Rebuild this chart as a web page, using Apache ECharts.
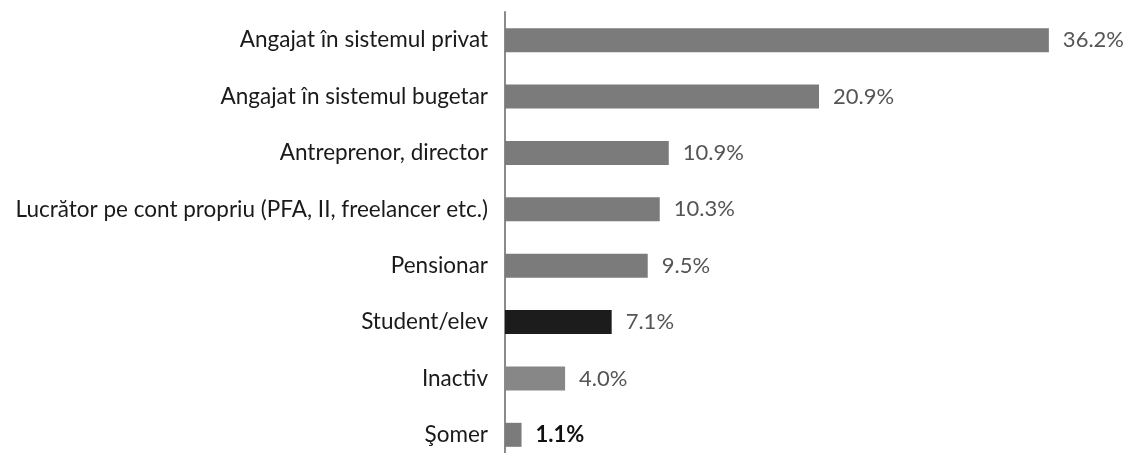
<!DOCTYPE html>
<html>
<head>
<meta charset="utf-8">
<script src="https://cdn.jsdelivr.net/npm/echarts@6/dist/echarts.min.js"></script>
<style>
  html, body { margin: 0; padding: 0; background: #fff; overflow: hidden; }
  /* the plot runs a little past the bottom edge, as in the scan */
  #chart { width: 1127px; height: 463px; }
</style>
</head>
<body>
<div id="chart"></div>
<script>
// categorii si procente
const categories = [
  'Angajat în sistemul privat',
  'Angajat în sistemul bugetar',
  'Antreprenor, director',
  'Lucrător pe cont propriu (PFA, II, freelancer etc.)',
  'Pensionar',
  'Student/elev',
  'Inactiv',
  'Şomer'
];
const values = [36.2, 20.9, 10.9, 10.3, 9.5, 7.1, 4.0, 1.1];
const barColors = ['#7b7b7b', '#7b7b7b', '#7b7b7b', '#7b7b7b', '#7b7b7b', '#1c1c1c', '#878787', '#7b7b7b'];
const labelColors = ['#555', '#555', '#555', '#555', '#555', '#555', '#555', '#111'];

const chart = echarts.init(document.getElementById('chart'));
const option = {
  animation: false,
  grid: { left: 505, right: 0, top: 12, bottom: 0, containLabel: false },
  xAxis: {
    type: 'value',
    min: 0,
    max: 41.4,
    show: false
  },
  yAxis: {
    type: 'category',
    inverse: true,
    data: categories,
    axisTick: { show: false },
    axisLine: { show: true, lineStyle: { color: '#8a8a8a', width: 2 } },
    axisLabel: {
      color: '#1a1a1a',
      fontFamily: 'Lato',
      fontSize: 22.5,
      margin: 17
    }
  },
  series: [{
    type: 'bar',
    barWidth: 24,
    data: values.map((v, i) => ({
      value: v,
      itemStyle: { color: barColors[i] },
      label: { color: labelColors[i], fontWeight: i === 7 ? 'bold' : 'normal' }
    })),
    label: {
      show: true,
      position: 'right',
      distance: 14,
      fontFamily: 'Lato',
      fontSize: 22,
      formatter: p => p.value.toFixed(1) + '%'
    }
  }]
};
chart.setOption(option);
</script>
</body>
</html>
